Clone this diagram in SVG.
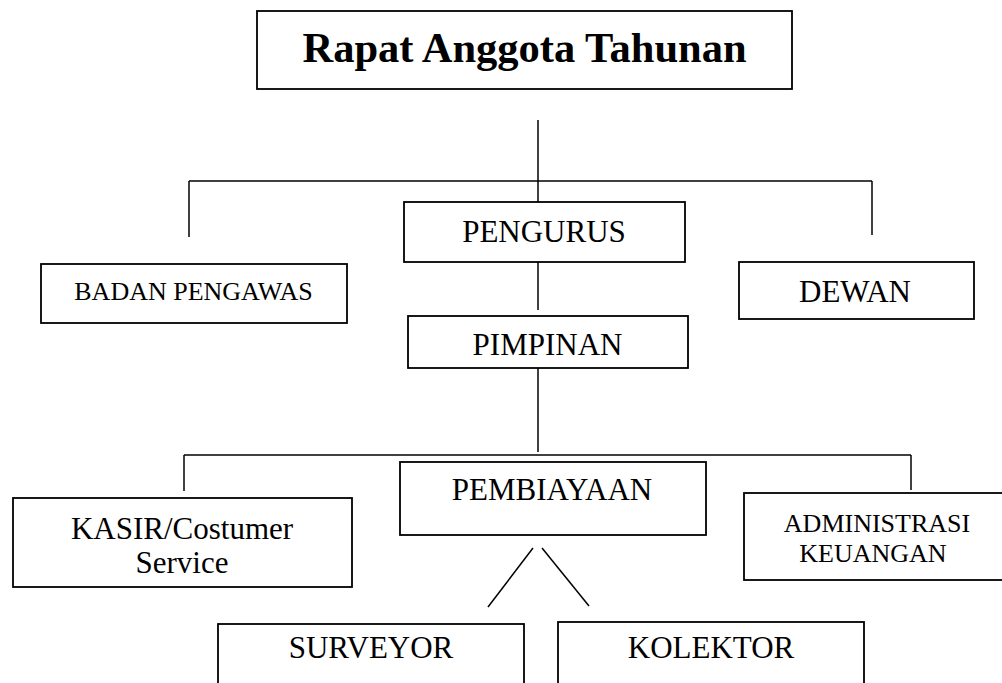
<svg xmlns="http://www.w3.org/2000/svg" width="1002" height="683" viewBox="0 0 1002 683" font-family="'Liberation Serif', 'Times New Roman', Times, serif">
<style>
.box{fill:#fff;stroke:#000;stroke-width:1.8}
.ln{stroke:#000;stroke-width:1.5;fill:none}
text{font-family:'Liberation Serif','Times New Roman',Times,serif;font-size:31px;fill:#000;text-anchor:middle}
text.s{font-size:26px}
text.title{font-size:42.5px;font-weight:bold}
</style>
<rect width="1002" height="683" fill="#fff"/>
<g id="connectors">
<line class="ln" x1="538" y1="120" x2="538" y2="203"/>
<line class="ln" x1="189" y1="181" x2="872" y2="181"/>
<line class="ln" x1="189" y1="181" x2="189" y2="237"/>
<line class="ln" x1="872" y1="181" x2="872" y2="235"/>
<line class="ln" x1="538" y1="262" x2="538" y2="310"/>
<line class="ln" x1="538" y1="368" x2="538" y2="452"/>
<line class="ln" x1="184" y1="455" x2="911" y2="455"/>
<line class="ln" x1="184" y1="455" x2="184" y2="491"/>
<line class="ln" x1="911" y1="455" x2="911" y2="490"/>
<line class="ln" x1="533" y1="548" x2="488" y2="607"/>
<line class="ln" x1="542" y1="548" x2="589" y2="606"/>
</g>
<g id="rat">
<rect class="box" x="257" y="11" width="535" height="78"/>
<text class="title" x="524.5" y="62" font-family="Liberation Serif">Rapat Anggota Tahunan</text>
</g>
<g id="pengurus">
<rect class="box" x="404" y="202" width="281" height="60"/>
<text x="544" y="242" font-family="Liberation Serif">PENGURUS</text>
</g>
<g id="badan-pengawas">
<rect class="box" x="41" y="264" width="306" height="59"/>
<text class="s" x="193.5" y="300" font-family="Liberation Serif">BADAN PENGAWAS</text>
</g>
<g id="dewan">
<rect class="box" x="739" y="262" width="235" height="57"/>
<text x="855" y="302" font-family="Liberation Serif">DEWAN</text>
</g>
<g id="pimpinan">
<rect class="box" x="408" y="316" width="280" height="52"/>
<text x="547.5" y="355" font-family="Liberation Serif">PIMPINAN</text>
</g>
<g id="pembiayaan">
<rect class="box" x="400" y="462" width="306" height="73"/>
<text x="552" y="500" font-family="Liberation Serif">PEMBIAYAAN</text>
</g>
<g id="kasir">
<rect class="box" x="13" y="498" width="339" height="89"/>
<text x="182" y="539" font-family="Liberation Serif">KASIR/Costumer</text>
<text x="182" y="573" font-family="Liberation Serif">Service</text>
</g>
<g id="administrasi">
<rect class="box" x="744" y="493" width="264" height="87"/>
<text class="s" x="877" y="532" font-family="Liberation Serif">ADMINISTRASI</text>
<text class="s" x="873" y="562" font-family="Liberation Serif">KEUANGAN</text>
</g>
<g id="surveyor">
<rect class="box" x="218" y="624" width="306" height="80"/>
<text x="371" y="658" font-family="Liberation Serif">SURVEYOR</text>
</g>
<g id="kolektor">
<rect class="box" x="558" y="622" width="306" height="80"/>
<text x="711" y="658" font-family="Liberation Serif">KOLEKTOR</text>
</g>
</svg>
